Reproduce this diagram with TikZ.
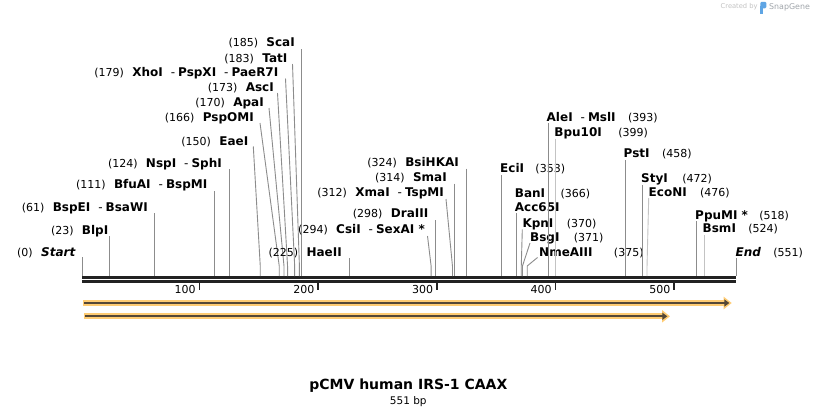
\documentclass[tikz,border=0pt]{standalone}
\usepackage{fontspec}
\setmainfont{DejaVu Sans}
\usetikzlibrary{positioning, arrows.meta}

\definecolor{mapdark}{RGB}{34,34,34}
\definecolor{cutgrey}{RGB}{140,140,140}
\definecolor{cutpale}{RGB}{195,195,195}
\definecolor{featorange}{RGB}{255,204,115}
\definecolor{featdark}{RGB}{85,72,55}
\definecolor{markgrey}{RGB}{195,195,195}
\definecolor{snapgrey}{RGB}{160,165,170}
\definecolor{snapblue}{RGB}{95,165,228}

% bp -> x position on the map
\newcommand{\sitex}[1]{82.3+#1*1.1864}
\newcommand{\enzsep}{\hspace{8pt}{\mdseries -}\hspace{3pt}}

\tikzset{
  enz/.style={inner sep=0pt, font=\bfseries\fontsize{12}{14}\selectfont,
    text height=8.8pt, text depth=2.6pt},
  bpnum/.style={inner sep=0pt, font=\fontsize{11}{13}\selectfont,
    text height=8.8pt, text depth=2.6pt},
  cut/.style={draw=cutgrey, line width=0.9pt},
  cutlight/.style={draw=cutpale, line width=0.9pt},
  maptick/.style={draw=mapdark, line width=1.7pt},
  featglow/.style={draw=featorange, line width=6pt, -{Triangle[length=8pt,width=12pt]}},
  featcore/.style={draw=featdark, line width=2.2pt, -{Triangle[length=5pt,width=7pt]}},
}

\begin{document}
\begin{tikzpicture}[x=1pt, y=-1pt]
  \fill[white] (0,0) rectangle (818,415);
  \useasboundingbox (0,0) rectangle (818,415);

  % map bar and ruler
  \fill[mapdark] (82,276) rectangle (736,278.7);
  \fill[mapdark] (82,280) rectangle (736,282.7);
  \foreach \t in {100,200,300,400,500} {
    \draw[maptick] ({\sitex{\t}-1.5},282) -- ++(0,8);
    \node[bpnum, anchor=base east] (tick\t) at ({\sitex{\t}-5},293) {\t};
  }

  % cut sites on the map
  \foreach \p in {0,23,61,111,124,150,166,170,173,179,183,185,225,294,298,312,
    314,324,353,366,370,371,375,393,399,458,472,476,518,524,551}
    \coordinate (s\p) at ({\sitex{\p}},276);

  % labels left of their line
  \node[enz, anchor=base east] (start) at (75.5,256) {\itshape Start};
  \node[bpnum, left=8pt of start] (start-pos) {(0)};
  \draw[cut] (s0 |- 0,257) -- (s0);

  \node[enz, anchor=base east] (blpi) at (108.5,234) {BlpI};
  \node[bpnum, left=8pt of blpi] (blpi-pos) {(23)};
  \draw[cut] (s23 |- 0,236) -- (s23);

  \node[enz, anchor=base east] (bspei) at (148,211) {BspEI\enzsep BsaWI};
  \node[bpnum, left=8pt of bspei] (bspei-pos) {(61)};
  \draw[cut] (s61 |- 0,213) -- (s61);

  \node[enz, anchor=base east] (bfuai) at (207.5,188.5) {BfuAI\enzsep BspMI};
  \node[bpnum, left=8pt of bfuai] (bfuai-pos) {(111)};
  \draw[cut] (s111 |- 0,191) -- (s111);

  \node[enz, anchor=base east] (nspi) at (222,167) {NspI\enzsep SphI};
  \node[bpnum, left=8pt of nspi] (nspi-pos) {(124)};
  \draw[cut] (s124 |- 0,169) -- (s124);

  \node[enz, anchor=base east] (eaei) at (248.5,145) {EaeI};
  \node[bpnum, left=8pt of eaei] (eaei-pos) {(150)};
  \coordinate (t150) at (253.3,146.5);
  \draw[cut] (t150) -- ([yshift=10pt]s150) -- (s150);

  \node[enz, anchor=base east] (pspomi) at (254,121) {PspOMI};
  \node[bpnum, left=8pt of pspomi] (pspomi-pos) {(166)};
  \coordinate (t166) at (260,123);
  \draw[cut] (t166) -- ([yshift=10pt]s166) -- (s166);

  \node[enz, anchor=base east] (apai) at (264,106) {ApaI};
  \node[bpnum, left=8pt of apai] (apai-pos) {(170)};
  \coordinate (t170) at (269,108);
  \draw[cut] (t170) -- ([yshift=10pt]s170) -- (s170);

  \node[enz, anchor=base east] (asci) at (274,91) {AscI};
  \node[bpnum, left=8pt of asci] (asci-pos) {(173)};
  \coordinate (t173) at (277.5,93);
  \draw[cut] (t173) -- ([yshift=10pt]s173) -- (s173);

  \node[enz, anchor=base east] (xhoi) at (278.5,76) {XhoI\enzsep PspXI\enzsep PaeR7I};
  \node[bpnum, left=8pt of xhoi] (xhoi-pos) {(179)};
  \coordinate (t179) at (285.5,78.5);
  \draw[cut] (t179) -- ([yshift=10pt]s179) -- (s179);

  \node[enz, anchor=base east] (tati) at (287.5,62) {TatI};
  \node[bpnum, left=8pt of tati] (tati-pos) {(183)};
  \coordinate (t183) at (292.5,64);
  \draw[cut] (t183) -- ([yshift=10pt]s183) -- (s183);

  \node[enz, anchor=base east] (scai) at (295,46.5) {ScaI};
  \node[bpnum, left=8pt of scai] (scai-pos) {(185)};
  \draw[cut] (s185 |- 0,49) -- (s185);

  \node[enz, anchor=base east] (haeii) at (342,256) {HaeII};
  \node[bpnum, left=8pt of haeii] (haeii-pos) {(225)};
  \draw[cut] (s225 |- 0,258) -- (s225);

  \node[enz, anchor=base east] (csii) at (425,233) {CsiI\enzsep SexAI *};
  \node[bpnum, left=8pt of csii] (csii-pos) {(294)};
  \coordinate (t294) at (427.5,236);
  \draw[cut] (t294) -- ([yshift=10pt]s294) -- (s294);

  \node[enz, anchor=base east] (draiii) at (428.5,217) {DraIII};
  \node[bpnum, left=8pt of draiii] (draiii-pos) {(298)};
  \draw[cut] (s298 |- 0,220) -- (s298);

  \node[enz, anchor=base east] (xmai) at (444,196) {XmaI\enzsep TspMI};
  \node[bpnum, left=8pt of xmai] (xmai-pos) {(312)};
  \coordinate (t312) at (446,199);
  \draw[cut] (t312) -- ([yshift=10pt]s312) -- (s312);

  \node[enz, anchor=base east] (smai) at (447,181) {SmaI};
  \node[bpnum, left=8pt of smai] (smai-pos) {(314)};
  \draw[cut] (s314 |- 0,183.5) -- (s314);

  \node[enz, anchor=base east] (bsihkai) at (459,166) {BsiHKAI};
  \node[bpnum, left=8pt of bsihkai] (bsihkai-pos) {(324)};
  \draw[cut] (s324 |- 0,168.5) -- (s324);

  % labels right of their line
  \node[enz, anchor=base west] (ecii) at (500,172.5) {EciI};
  \node[bpnum, right=11pt of ecii] (ecii-pos) {(353)};
  \draw[cut] (s353 |- 0,175) -- (s353);

  \node[enz, anchor=base west] (bani) at (514.7,197.5) {BanI};
  \node[bpnum, right=15pt of bani] (bani-pos) {(366)};
  \node[enz, anchor=base west] (acc65i) at (514.7,211) {Acc65I};
  \draw[cut] (s366 |- 0,213) -- (s366);

  \node[enz, anchor=base west] (kpni) at (522.3,227.5) {KpnI};
  \node[bpnum, right=13pt of kpni] (kpni-pos) {(370)};
  \coordinate (t370) at (522.3,229.5);
  \draw[cut] (t370) -- ([yshift=10pt]s370) -- (s370);

  \node[enz, anchor=base west] (bsgi) at (530,241) {BsgI};
  \node[bpnum, right=14pt of bsgi] (bsgi-pos) {(371)};
  \coordinate (t371) at (530,243);
  \draw[cut] (t371) -- ([yshift=10pt]s371) -- (s371);

  \node[enz, anchor=base west] (nmeaiii) at (539,256) {NmeAIII};
  \node[bpnum, right=21pt of nmeaiii] (nmeaiii-pos) {(375)};
  \coordinate (t375) at (537.5,257.5);
  \draw[cut] (t375) -- ([yshift=10pt]s375) -- (s375);

  \node[enz, anchor=base west] (alei) at (546.5,121) {AleI\enzsep MslI};
  \node[bpnum, right=12pt of alei] (alei-pos) {(393)};
  \draw[cut] (s393 |- 0,123) -- (s393);

  \node[enz, anchor=base west] (bpu10i) at (554.2,136.5) {Bpu10I};
  \node[bpnum, right=16pt of bpu10i] (bpu10i-pos) {(399)};
  \draw[cutlight] (s399 |- 0,138.5) -- (s399);

  \node[enz, anchor=base west] (psti) at (623.5,157.5) {PstI};
  \node[bpnum, right=12pt of psti] (psti-pos) {(458)};
  \draw[cut] (s458 |- 0,160) -- (s458);

  \node[enz, anchor=base west] (styi) at (641,182.5) {StyI};
  \node[bpnum, right=14pt of styi] (styi-pos) {(472)};
  \draw[cut] (s472 |- 0,185) -- (s472);

  \node[enz, anchor=base west] (econi) at (648.5,196) {EcoNI};
  \node[bpnum, right=13pt of econi] (econi-pos) {(476)};
  \coordinate (t476) at (648.7,198);
  \draw[cutlight] (t476) -- ([yshift=10pt]s476) -- (s476);

  \node[enz, anchor=base west] (ppumi) at (695,219) {PpuMI *};
  \node[bpnum, right=11pt of ppumi] (ppumi-pos) {(518)};
  \draw[cut] (s518 |- 0,221) -- (s518);

  \node[enz, anchor=base west] (bsmi) at (702.5,232.5) {BsmI};
  \node[bpnum, right=12pt of bsmi] (bsmi-pos) {(524)};
  \draw[cutlight] (s524 |- 0,235) -- (s524);

  \node[enz, anchor=base west] (end) at (735.5,256.5) {\itshape End};
  \node[bpnum, right=12pt of end] (end-pos) {(551)};
  \draw[cut] (s551 |- 0,258) -- (s551);

  % features
  \coordinate (f1a) at (83.3,303);   \coordinate (f1b) at (731.7,303);
  \coordinate (f2a) at (84.3,316.3); \coordinate (f2b) at (670,316.3);
  \draw[featglow] (f1a) -- (f1b);
  \draw[featcore] ([xshift=1pt]f1a) -- ([xshift=-2.4pt]f1b);
  \draw[featglow] (f2a) -- (f2b);
  \draw[featcore] ([xshift=1pt]f2a) -- ([xshift=-2.7pt]f2b);

  % title
  \node[inner sep=0pt, anchor=base, font=\bfseries\fontsize{14}{16}\selectfont]
    (title) at (408.3,389.3) {pCMV human IRS-1 CAAX};
  \node[inner sep=0pt, anchor=base, font=\fontsize{10.5}{12}\selectfont]
    (length) at (408.3,404) {551 bp};

  % watermark
  \node[inner sep=0pt, anchor=base west, text=markgrey, font=\fontsize{6.7}{8}\selectfont]
    (madeby) at (720.5,8.5) {Created by};
  \fill[snapblue, rounded corners=1.2pt] (760.3,1.8) rectangle (766.3,8.3);
  \fill[snapblue] (760.3,6) rectangle (763,13.5);
  \node[inner sep=0pt, anchor=base west, text=snapgrey, font=\fontsize{7.9}{9}\selectfont]
    (snapgene) at (769,9.3) {SnapGene};
\end{tikzpicture}
\end{document}
